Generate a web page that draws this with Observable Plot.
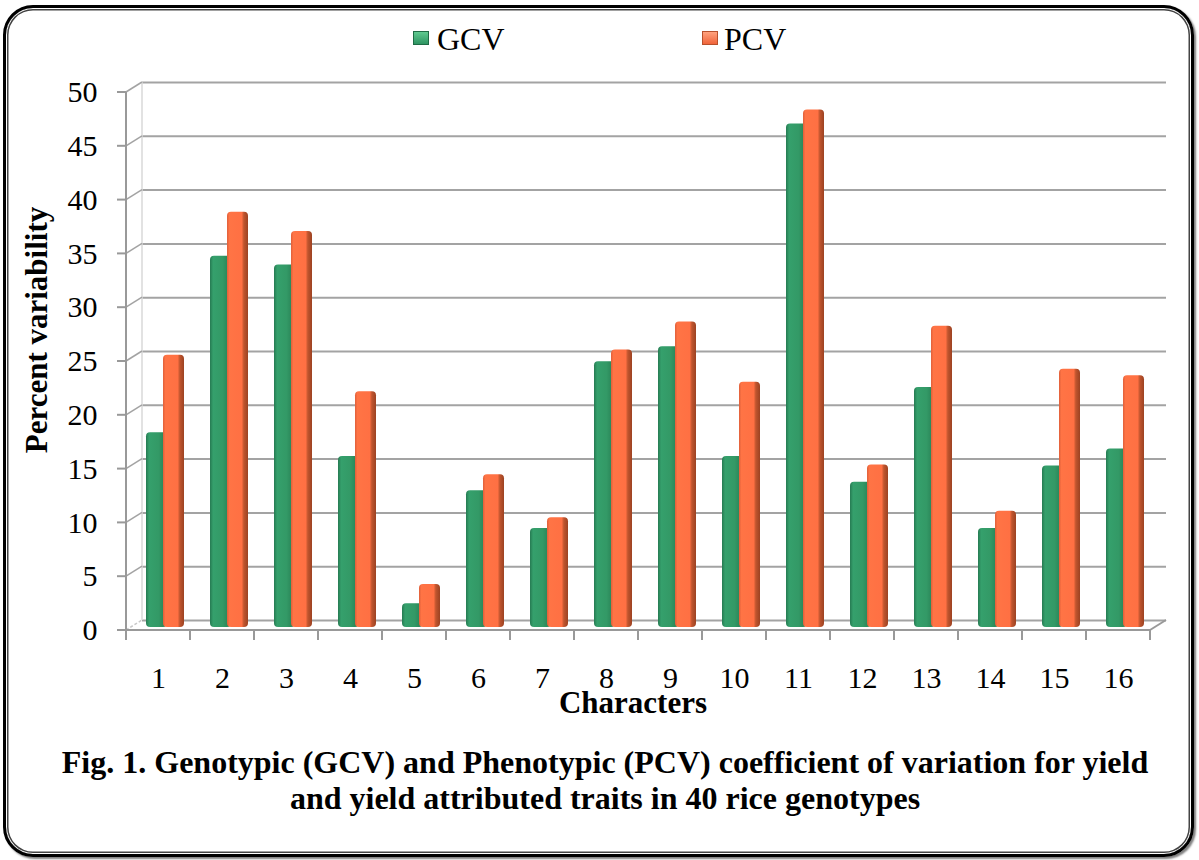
<!DOCTYPE html>
<html><head><meta charset="utf-8">
<script src="https://cdn.jsdelivr.net/npm/d3@7"></script>
<script src="https://cdn.jsdelivr.net/npm/@observablehq/plot@0.6"></script>
<style>
body{margin:0;background:#fff;}
#wrap{position:relative;width:1199px;height:860px;overflow:hidden;font-family:"Liberation Serif","Times New Roman",serif;color:#000;}
#frame{position:absolute;left:3px;top:5px;width:1191px;height:852px;box-sizing:border-box;border:3px solid #000;border-radius:30px;box-shadow:inset 0 0 0 1px #fff,inset 0 0 0 2.5px #444,2px 2px 2px rgba(0,0,0,.5);}
#chart{position:absolute;left:0;top:0;}
.leg{position:absolute;top:23px;font-size:32px;line-height:1;white-space:nowrap;}
.sw{position:absolute;width:16px;height:14px;box-sizing:border-box;}
#xlab{position:absolute;left:0;width:1266px;top:687px;text-align:center;font-weight:bold;font-size:31px;line-height:1;}
#ylab{position:absolute;left:36px;top:330px;transform:translate(-50%,-50%) rotate(-90deg);font-weight:bold;font-size:31px;line-height:1;white-space:nowrap;}
#cap{position:absolute;left:0;width:1210px;top:744px;text-align:center;font-weight:bold;font-size:32px;line-height:36px;}
</style></head>
<body>
<svg width="0" height="0" style="position:absolute">
<defs>
<linearGradient id="gG" x1="0" x2="1" y1="0" y2="0">
<stop offset="0" stop-color="#267a52"/><stop offset="0.15" stop-color="#35a06c"/><stop offset="0.6" stop-color="#339966"/><stop offset="0.85" stop-color="#2b8659"/><stop offset="1" stop-color="#1e6343"/>
</linearGradient>
<linearGradient id="gP" x1="0" x2="1" y1="0" y2="0">
<stop offset="0" stop-color="#e0603a"/><stop offset="0.12" stop-color="#ff7445"/><stop offset="0.7" stop-color="#ff7043"/><stop offset="0.8" stop-color="#c0552e"/><stop offset="1" stop-color="#9c4222"/>
</linearGradient>
</defs></svg>
<div id="wrap">
<div id="frame"></div>
<div id="chart"></div>
<div class="sw" style="left:413px;top:31px;background:linear-gradient(#5fc98f,#2e9462);border:1px solid #1f6b45"></div>
<div class="leg" style="left:437px">GCV</div>
<div class="sw" style="left:702px;top:31px;background:linear-gradient(#ffa27e,#f0643a);border:1px solid #b8502c"></div>
<div class="leg" style="left:724px">PCV</div>
<div id="ylab">Percent variability</div>
<div id="xlab">Characters</div>
<div id="cap">Fig. 1. Genotypic (GCV) and Phenotypic (PCV) coefficient of variation for yield<br>and yield attributed traits in 40 rice genotypes</div>
</div>
<script>
const characters = ["1","2","3","4","5","6","7","8","9","10","11","12","13","14","15","16"];
const gcv = [18.1,34.5,33.7,15.9,2.2,12.7,9.2,24.7,26.1,15.9,46.8,13.5,22.3,9.2,15.0,16.6];
const pcv = [25.3,38.6,36.8,21.9,4.0,14.2,10.2,25.8,28.4,22.8,48.1,15.1,28.0,10.8,24.0,23.4];
const yTicks = [0,5,10,15,20,25,30,35,40,45,50];

const gRows = characters.map((c,i)=>({character:c, value:gcv[i]}));
const pRows = characters.map((c,i)=>({character:c, value:pcv[i]}));

const DX = 16, DY = -10;
const grid = "#a3a3a3", axisC = "#999";

function backParts(index, scales, values, dims) {
  const {x, y} = scales;
  const g = d3.create("svg:g");
  const x0 = dims.marginLeft, x1 = dims.width - dims.marginRight;
  const yb = y(0), yt = y(50);
  g.append("line").attr("x1", x0+DX).attr("x2", x0+DX).attr("y1", yb+DY).attr("y2", yt+DY).attr("stroke", "#d9d9d9").attr("stroke-width", 1.5);
  for (const t of yTicks) {
    g.append("line").attr("x1", x0).attr("y1", y(t)).attr("x2", x0+DX).attr("y2", y(t)+DY)
      .attr("stroke", t === 0 ? "#c8c8c8" : grid).attr("stroke-width", 1.5)
      .attr("stroke-dasharray", t === 0 ? "3,2" : null);
  }
  g.append("line").attr("x1", x1).attr("y1", yb).attr("x2", x1+DX).attr("y2", yb+DY).attr("stroke", axisC).attr("stroke-width", 2);
  return g.node();
}
function frontParts(index, scales, values, dims) {
  const {x, y} = scales;
  const g = d3.create("svg:g");
  const x0 = dims.marginLeft, x1 = dims.width - dims.marginRight;
  const yb = y(0), yt = y(50);
  g.append("line").attr("x1", x0).attr("x2", x0).attr("y1", yb+1).attr("y2", yt).attr("stroke", axisC).attr("stroke-width", 2);
  g.append("line").attr("x1", x0-1).attr("x2", x1+1).attr("y1", yb).attr("y2", yb).attr("stroke", axisC).attr("stroke-width", 2);
  for (const t of yTicks) {
    g.append("line").attr("x1", x0-9).attr("x2", x0).attr("y1", y(t)).attr("y2", y(t)).attr("stroke", axisC).attr("stroke-width", 2);
  }
  const bounds = characters.map(c => x(c)).concat([x1]);
  for (const bx of bounds) {
    g.append("line").attr("x1", bx).attr("x2", bx).attr("y1", yb).attr("y2", yb+10).attr("stroke", axisC).attr("stroke-width", 2);
  }
  return g.node();
}

const chart = Plot.plot({
  width: 1199,
  height: 730,
  marginLeft: 126,
  marginRight: 49,
  marginTop: 92,
  marginBottom: 100,
  style: {fontFamily: '"Liberation Serif","Times New Roman",serif', fontSize: "30px", background: "transparent", overflow: "visible"},
  x: {domain: characters, padding: 0, tickSize: 0, tickPadding: 36, label: null},
  y: {domain: [0, 50], ticks: yTicks, tickSize: 0, tickPadding: 29, label: null},
  marks: [
    Plot.ruleY(yTicks, {dx: DX, dy: DY, stroke: grid, strokeWidth: 2}),
    backParts,
    Plot.barY(gRows, {x: "character", y: "value", fill: "url(#gG)", insetLeft: 20, insetRight: 23, rx: 4, dy: -3}),
    Plot.barY(pRows, {x: "character", y: "value", fill: "url(#gP)", insetLeft: 37, insetRight: 6, rx: 4, dy: -3}),
    frontParts
  ]
});
document.getElementById("chart").appendChild(chart);
</script>
</body></html>
